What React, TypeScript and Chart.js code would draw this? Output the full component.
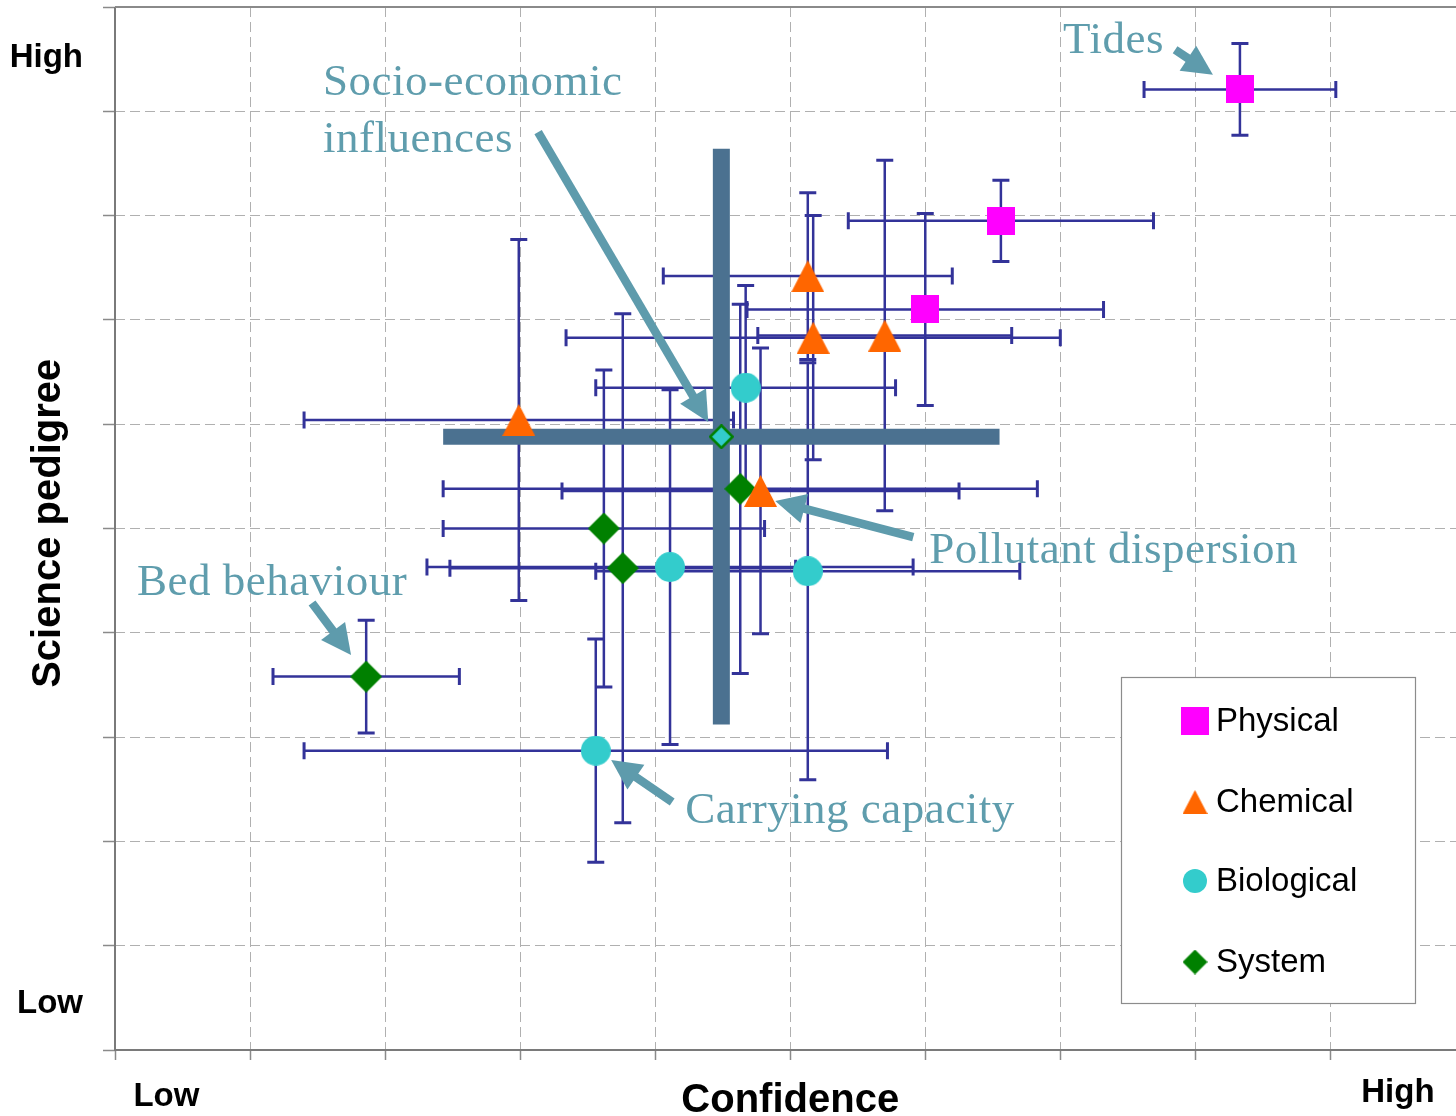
import React, { useEffect, useRef } from 'react';
import { Chart, registerables } from 'chart.js';

Chart.register(...registerables);

// ---------- data (confidence = x, science pedigree = y) ----------
const physicalX = [8.33, 6.56, 6.0];
const physicalY = [9.21, 7.95, 7.1];
const physicalXErr = [0.71, 1.13, 1.32];
const physicalYErr = [0.44, 0.39, 0.92];

const chemicalX = [5.13, 5.17, 5.7, 2.99, 4.78];
const chemicalY = [7.42, 6.83, 6.85, 6.04, 5.36];
const chemicalXErr = [1.07, 1.83, 0.94, 1.59, 1.47];
const chemicalYErr = [0.8, 1.17, 1.68, 1.73, 1.37];

const biologicalX = [4.67, 4.11, 5.13, 3.56];
const biologicalY = [6.35, 4.63, 4.59, 2.87];
const biologicalXErr = [1.11, 1.8, 1.57, 2.16];
const biologicalYErr = [0.98, 1.7, 2.0, 1.07];

const systemX = [1.86, 3.62, 3.76, 4.63];
const systemY = [3.58, 5.0, 4.62, 5.38];
const systemXErr = [0.69, 1.19, 1.28, 2.2];
const systemYErr = [0.54, 1.52, 2.44, 1.77];

const socioX = [4.49];
const socioY = [5.88];
const socioXErr = [2.06];
const socioYErr = [2.76];

const seriesNames = ['Physical', 'Chemical', 'Biological', 'System'];

const xTickValues = [0, 1, 2, 3, 4, 5, 6, 7, 8, 9];
const yTickValues = [0, 1, 2, 3, 4, 5, 6, 7, 8, 9, 10];

const axisLabelText = ['Low', 'High'];
const yAxisLabelPos = [0.355, 9.425];
const xAxisLabelPos = [0.381, 9.5];

const annotationLabels = ['Tides', 'Socio-economic', 'influences', 'Pollutant dispersion', 'Bed behaviour', 'Carrying capacity'];
const annotationX = [7.02, 1.54, 1.54, 6.03, 0.163, 4.222];
const annotationY = [9.56, 9.156, 8.61, 4.669, 4.362, 2.176];
const arrowFromX = [7.85, 3.133, 5.911, 1.459, 4.126];
const arrowFromY = [9.59, 8.8, 4.918, 4.286, 2.378];
const arrowToX = [8.13, 4.393, 4.889, 1.748, 3.674];
const arrowToY = [9.35, 6.021, 5.264, 3.787, 2.78];

const toPoints = (xs: number[], ys: number[]) => xs.map((v, i) => ({ x: v, y: ys[i] }));

// ---------- marker images ----------
function makeMarker(shape: string, w: number, h: number, fill: string, stroke?: string, sw = 0) {
  const c = document.createElement('canvas');
  c.width = w;
  c.height = h;
  const g = c.getContext('2d')!;
  g.fillStyle = fill;
  g.beginPath();
  const i = sw / 2;
  if (shape === 'square') {
    g.rect(0, 0, w, h);
  } else if (shape === 'triangle') {
    g.moveTo(w / 2, 0);
    g.lineTo(w, h);
    g.lineTo(0, h);
    g.closePath();
  } else if (shape === 'circle') {
    g.arc(w / 2, h / 2, w / 2 - i, 0, Math.PI * 2);
  } else {
    g.moveTo(w / 2, i);
    g.lineTo(w - i, h / 2);
    g.lineTo(w / 2, h - i);
    g.lineTo(i, h / 2);
    g.closePath();
  }
  g.fill();
  if (stroke && sw > 0) {
    g.strokeStyle = stroke;
    g.lineWidth = sw;
    g.stroke();
  }
  return c;
}

const TEXT_BLUE = '#5F9DAD';

const errorBarPlugin = {
  id: 'errorBars',
  beforeDatasetsDraw(chart: any) {
    const { ctx, chartArea } = chart;
    const xs = chart.scales.x;
    const ys = chart.scales.y;

    // solid axis lines
    ctx.save();
    ctx.strokeStyle = '#7a7a7a';
    ctx.lineWidth = 2;
    ctx.beginPath();
    ctx.moveTo(chartArea.left, chartArea.top);
    ctx.lineTo(chartArea.left, chartArea.bottom);
    ctx.lineTo(chartArea.right, chartArea.bottom);
    ctx.stroke();
    ctx.strokeStyle = '#8a8a8a';
    ctx.beginPath();
    ctx.moveTo(chartArea.left, chartArea.top);
    ctx.lineTo(chartArea.right, chartArea.top);
    ctx.stroke();
    ctx.restore();

    const drawPass = (thick: boolean) => {
      chart.data.datasets.forEach((ds: any) => {
        if (!ds.errX || !!ds.thick !== thick) return;
        ds.data.forEach((p: any, i: number) => {
          const px = xs.getPixelForValue(p.x);
          const py = ys.getPixelForValue(p.y);
          const x1 = xs.getPixelForValue(p.x - ds.errX[i]);
          const x2 = xs.getPixelForValue(p.x + ds.errX[i]);
          const y1 = ys.getPixelForValue(p.y + ds.errY[i]);
          const y2 = ys.getPixelForValue(p.y - ds.errY[i]);
          ctx.save();
          if (thick) {
            ctx.strokeStyle = '#4B7190';
            ctx.lineWidth = 16;
            ctx.lineCap = 'butt';
            ctx.beginPath();
            ctx.moveTo(x1, py);
            ctx.lineTo(x2, py);
            ctx.stroke();
            ctx.lineWidth = 17;
            ctx.beginPath();
            ctx.moveTo(px, y1);
            ctx.lineTo(px, y2);
            ctx.stroke();
          } else {
            ctx.strokeStyle = '#333399';
            ctx.lineWidth = 2.5;
            ctx.beginPath();
            ctx.moveTo(x1, py);
            ctx.lineTo(x2, py);
            ctx.moveTo(px, y1);
            ctx.lineTo(px, y2);
            ctx.stroke();
            ctx.lineWidth = 3;
            const c = 8.5;
            ctx.beginPath();
            ctx.moveTo(x1, py - c);
            ctx.lineTo(x1, py + c);
            ctx.moveTo(x2, py - c);
            ctx.lineTo(x2, py + c);
            ctx.moveTo(px - c, y1);
            ctx.lineTo(px + c, y1);
            ctx.moveTo(px - c, y2);
            ctx.lineTo(px + c, y2);
            ctx.stroke();
          }
          ctx.restore();
        });
      });
    };
    drawPass(false);
    drawPass(true);
  },
};

function makeTextPlugin(legendMarkers: HTMLCanvasElement[]) {
  return {
    id: 'texts',
    afterDatasetsDraw(chart: any) {
      const { ctx, chartArea } = chart;
      const xs = chart.scales.x;
      const ys = chart.scales.y;
      ctx.save();

      // axis end labels
      ctx.fillStyle = '#000';
      ctx.font = 'bold 33px "Liberation Sans", Arial, sans-serif';
      ctx.textAlign = 'right';
      ctx.textBaseline = 'alphabetic';
      axisLabelText.forEach((t, i) => {
        ctx.fillText(t, chartArea.left - 32, ys.getPixelForValue(yAxisLabelPos[i]));
      });
      ctx.textAlign = 'center';
      ctx.fillText(axisLabelText[0], xs.getPixelForValue(xAxisLabelPos[0]), chartArea.bottom + 56);
      ctx.fillText(axisLabelText[1], xs.getPixelForValue(xAxisLabelPos[1]), chartArea.bottom + 52);

      // axis titles
      ctx.font = 'bold 40px "Liberation Sans", Arial, sans-serif';
      ctx.fillText('Confidence', xs.getPixelForValue(5), chartArea.bottom + 62);
      ctx.save();
      ctx.translate(60, ys.getPixelForValue(5.05));
      ctx.rotate(-Math.PI / 2);
      ctx.fillText('Science pedigree', 0, 0);
      ctx.restore();

      // annotations
      ctx.fillStyle = TEXT_BLUE;
      ctx.font = '45px "Liberation Serif", "Times New Roman", serif';
      (ctx as any).letterSpacing = '0.5px';
      ctx.textAlign = 'left';
      annotationLabels.forEach((t, i) => {
        ctx.fillText(t, xs.getPixelForValue(annotationX[i]), ys.getPixelForValue(annotationY[i]));
      });
      (ctx as any).letterSpacing = '0px';

      // arrows
      ctx.fillStyle = '#5E9BAC';
      ctx.strokeStyle = '#5E9BAC';
      arrowFromX.forEach((_, i) => {
        const ax = xs.getPixelForValue(arrowFromX[i]);
        const ay = ys.getPixelForValue(arrowFromY[i]);
        const bx = xs.getPixelForValue(arrowToX[i]);
        const by = ys.getPixelForValue(arrowToY[i]);
        const ang = Math.atan2(by - ay, bx - ax);
        const hl = 30;
        const hw = 15;
        const baseX = bx - Math.cos(ang) * hl;
        const baseY = by - Math.sin(ang) * hl;
        ctx.lineWidth = 8.5;
        ctx.lineCap = 'butt';
        ctx.beginPath();
        ctx.moveTo(ax, ay);
        ctx.lineTo(baseX + Math.cos(ang) * 2, baseY + Math.sin(ang) * 2);
        ctx.stroke();
        ctx.beginPath();
        ctx.moveTo(bx, by);
        ctx.lineTo(baseX + Math.sin(ang) * hw, baseY - Math.cos(ang) * hw);
        ctx.lineTo(baseX - Math.sin(ang) * hw, baseY + Math.cos(ang) * hw);
        ctx.closePath();
        ctx.fill();
      });

      // legend
      const lx = 1121.5;
      const ly = 677.5;
      ctx.fillStyle = '#fff';
      ctx.fillRect(lx, ly, 294, 326);
      ctx.strokeStyle = '#8c8c8c';
      ctx.lineWidth = 1.2;
      ctx.strokeRect(lx, ly, 294, 326);
      const rowY = [721, 802, 881, 962];
      ctx.font = '33px "Liberation Sans", Arial, sans-serif';
      ctx.fillStyle = '#000';
      ctx.textBaseline = 'middle';
      ctx.textAlign = 'left';
      seriesNames.forEach((name, i) => {
        const m = legendMarkers[i];
        ctx.drawImage(m, 1195 - m.width / 2, rowY[i] - m.height / 2);
        ctx.fillText(name, 1216, rowY[i] + 1);
      });
      ctx.restore();
    },
  };
}

export default function App() {
  const ref = useRef<HTMLCanvasElement | null>(null);

  useEffect(() => {
    document.body.style.margin = '0';
    document.body.style.overflow = 'hidden';
    const canvas = ref.current;
    if (!canvas) return;

    const magenta = '#FF00FF';
    const orange = '#FF6600';
    const cyan = '#33CCCC';
    const green = '#008000';

    const mSquare = makeMarker('square', 28, 28, magenta);
    const mTri = makeMarker('triangle', 33, 32, orange);
    const mCircle = makeMarker('circle', 30, 30, cyan);
    const mDiamond = makeMarker('diamond', 32, 32, green);
    const mSocio = makeMarker('diamond', 25, 25, cyan, green, 2.5);

    const legendMarkers = [
      makeMarker('square', 28, 28, magenta),
      makeMarker('triangle', 25, 24, orange),
      makeMarker('circle', 24, 24, cyan),
      makeMarker('diamond', 25, 25, green),
    ];

    const ds = (label: string, xs: number[], ys: number[], ex: number[], ey: number[], style: any, color: string, extra: any = {}) => ({
      label,
      data: toPoints(xs, ys),
      errX: ex,
      errY: ey,
      pointStyle: style,
      pointRadius: 15,
      pointHoverRadius: 15,
      backgroundColor: color,
      borderColor: color,
      showLine: false,
      clip: false,
      ...extra,
    });

    const chart = new Chart(canvas, {
      type: 'scatter',
      data: {
        datasets: [
          ds('Socio-economic influences', socioX, socioY, socioXErr, socioYErr, mSocio, cyan, { thick: true }),
          ds(seriesNames[0], physicalX, physicalY, physicalXErr, physicalYErr, mSquare, magenta),
          ds(seriesNames[1], chemicalX, chemicalY, chemicalXErr, chemicalYErr, mTri, orange),
          ds(seriesNames[2], biologicalX, biologicalY, biologicalXErr, biologicalYErr, mCircle, cyan),
          ds(seriesNames[3], systemX, systemY, systemXErr, systemYErr, mDiamond, green),
        ] as any,
      },
      options: {
        animation: false,
        responsive: false,
        devicePixelRatio: 1,
        layout: { autoPadding: false, padding: { top: 7, left: 0, right: 0, bottom: 0 } },
        plugins: {
          legend: { display: false },
          tooltip: { enabled: false },
          title: { display: false },
        },
        scales: {
          x: {
            type: 'linear',
            min: 0,
            max: 9.93,
            afterBuildTicks: (scale: any) => {
              scale.ticks = xTickValues.map((v) => ({ value: v }));
            },
            afterFit: (scale: any) => {
              scale.height = 66;
            },
            ticks: { display: false },
            grid: { color: '#b0b0b0', lineWidth: 1, tickLength: 10, tickColor: '#8a8a8a', tickWidth: 1.5, tickBorderDash: [] },
            border: { display: false, dash: [10, 5] },
          },
          y: {
            type: 'linear',
            min: 0,
            max: 10,
            afterBuildTicks: (scale: any) => {
              scale.ticks = yTickValues.map((v) => ({ value: v }));
            },
            afterFit: (scale: any) => {
              scale.width = 115;
            },
            ticks: { display: false },
            grid: { color: '#b0b0b0', lineWidth: 1, tickLength: 12, tickColor: '#8a8a8a', tickWidth: 1.5, tickBorderDash: [] },
            border: { display: false, dash: [10, 5] },
          },
        },
      } as any,
      plugins: [errorBarPlugin, makeTextPlugin(legendMarkers)],
    });

    return () => chart.destroy();
  }, []);

  return (
    <div style={{ width: 1456, height: 1116, background: '#fff' }}>
      <canvas ref={ref} width={1456} height={1116} style={{ display: 'block', width: 1456, height: 1116 }} />
    </div>
  );
}
